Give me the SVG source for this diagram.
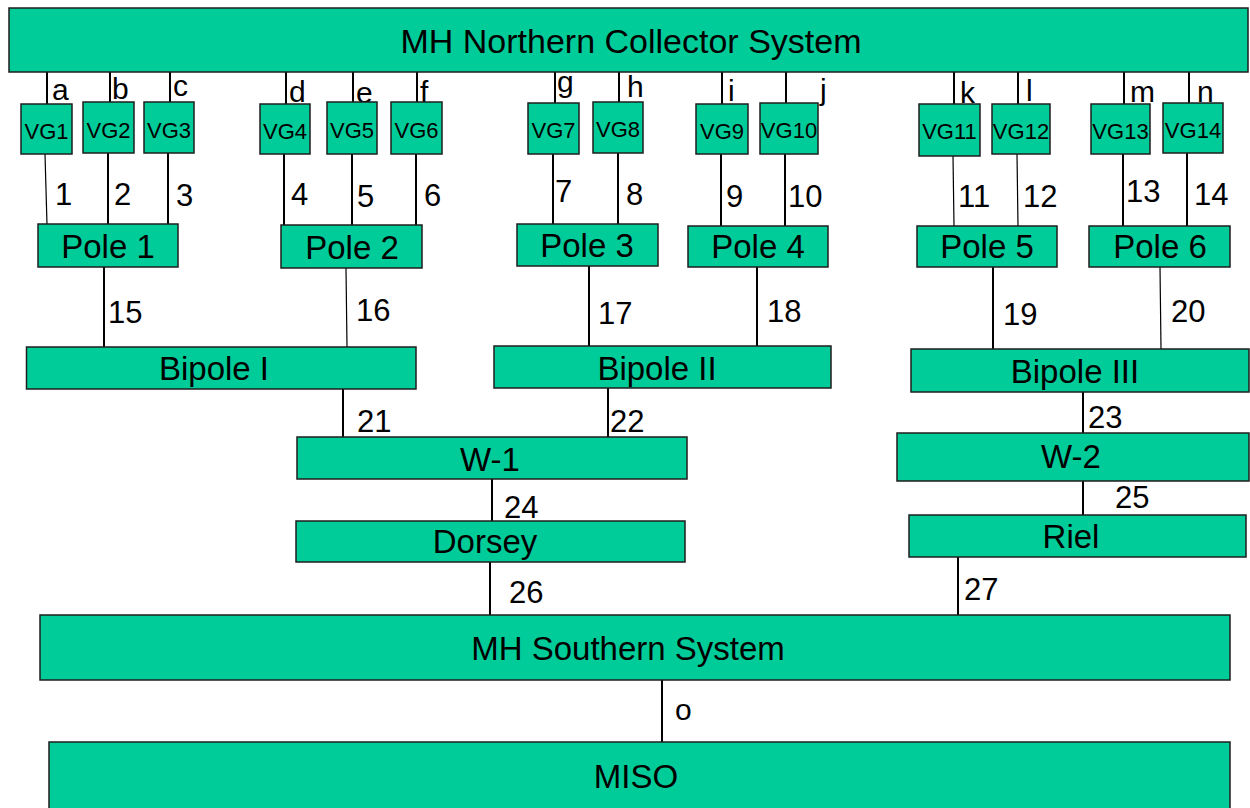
<svg xmlns="http://www.w3.org/2000/svg" width="1250" height="808" viewBox="0 0 1250 808">
<style>
.b{fill:#00CC99;stroke:#1e1e1e;stroke-width:1.5}
.t{font-family:"Liberation Sans",Arial,sans-serif;fill:#000;text-anchor:middle}
.big{font-size:33px}
.vg{font-size:22px}
.num{font-family:"Liberation Sans",Arial,sans-serif;font-size:31px;fill:#000}
.let{font-family:"Liberation Sans",Arial,sans-serif;font-size:30px;fill:#000}
.c line{stroke:#000;stroke-width:2}
.c line.thin{stroke-width:1.2}
</style>
<rect width="1250" height="808" fill="#fff"/>
<g class="c" id="connectors">
<line x1="47" y1="72" x2="47" y2="104"/>
<line x1="110" y1="72" x2="110" y2="102"/>
<line x1="170" y1="72" x2="170" y2="102"/>
<line x1="286" y1="72" x2="286" y2="104"/>
<line x1="353" y1="72" x2="353" y2="102"/>
<line x1="417" y1="72" x2="417" y2="102"/>
<line x1="555" y1="72" x2="555" y2="103"/>
<line x1="619" y1="72" x2="619" y2="102"/>
<line x1="722" y1="72" x2="722" y2="104"/>
<line x1="786" y1="72" x2="786" y2="103"/>
<line x1="954" y1="72" x2="954" y2="104"/>
<line x1="1018" y1="72" x2="1018" y2="104"/>
<line x1="1124" y1="72" x2="1124" y2="104"/>
<line x1="1189" y1="72" x2="1189" y2="103"/>
<line class="thin" x1="45" y1="154" x2="47" y2="225"/>
<line x1="108" y1="153" x2="108" y2="224"/>
<line x1="168" y1="153" x2="168" y2="224"/>
<line x1="284" y1="154" x2="284" y2="225"/>
<line x1="352" y1="154" x2="352" y2="225"/>
<line x1="416" y1="154" x2="416" y2="225"/>
<line x1="553" y1="154" x2="553" y2="224"/>
<line x1="618" y1="153" x2="618" y2="224"/>
<line x1="721" y1="154" x2="721" y2="226"/>
<line x1="785" y1="154" x2="785" y2="226"/>
<line class="thin" x1="953" y1="156" x2="954" y2="226"/>
<line class="thin" x1="1017" y1="154" x2="1018" y2="226"/>
<line x1="1123" y1="154" x2="1123" y2="226"/>
<line x1="1187" y1="153" x2="1187" y2="226"/>
<line x1="104" y1="267" x2="104" y2="347"/>
<line class="thin" x1="346" y1="268" x2="347" y2="347"/>
<line x1="589" y1="266" x2="589" y2="346"/>
<line x1="757" y1="267" x2="757" y2="346"/>
<line x1="993" y1="267" x2="993" y2="349"/>
<line class="thin" x1="1160" y1="267" x2="1161" y2="349"/>
<line x1="343" y1="389" x2="343" y2="437"/>
<line x1="608" y1="388" x2="608" y2="437"/>
<line x1="1083" y1="392" x2="1083" y2="433"/>
<line x1="492" y1="479" x2="492" y2="521"/>
<line x1="1083" y1="481" x2="1083" y2="515"/>
<line x1="490" y1="562" x2="490" y2="615"/>
<line x1="958" y1="557" x2="958" y2="615"/>
<line x1="662" y1="680" x2="662" y2="742"/>
</g>
<g id="labels">
<text class="let" x="52" y="100">a</text>
<text class="let" x="112" y="99">b</text>
<text class="let" x="173" y="96">c</text>
<text class="let" x="289" y="102">d</text>
<text class="let" x="356" y="103">e</text>
<text class="let" x="420" y="102">f</text>
<text class="let" x="557" y="92">g</text>
<text class="let" x="627" y="97">h</text>
<text class="let" x="728" y="101">i</text>
<text class="let" x="820" y="100">j</text>
<text class="let" x="960" y="103">k</text>
<text class="let" x="1026" y="101">l</text>
<text class="let" x="1130" y="102">m</text>
<text class="let" x="1197" y="102">n</text>
<text class="num" x="55" y="205">1</text>
<text class="num" x="114" y="205">2</text>
<text class="num" x="176" y="206">3</text>
<text class="num" x="291" y="205">4</text>
<text class="num" x="357" y="207">5</text>
<text class="num" x="424" y="206">6</text>
<text class="num" x="555" y="202">7</text>
<text class="num" x="626" y="205">8</text>
<text class="num" x="726" y="207">9</text>
<text class="num" x="788" y="207">10</text>
<text class="num" x="958" y="207">11</text>
<text class="num" x="1023" y="207">12</text>
<text class="num" x="1126" y="202">13</text>
<text class="num" x="1194" y="205">14</text>
<text class="num" x="108" y="323">15</text>
<text class="num" x="356" y="321">16</text>
<text class="num" x="598" y="324">17</text>
<text class="num" x="767" y="322">18</text>
<text class="num" x="1003" y="325">19</text>
<text class="num" x="1171" y="322">20</text>
<text class="num" x="357" y="432">21</text>
<text class="num" x="610" y="432">22</text>
<text class="num" x="1088" y="428">23</text>
<text class="num" x="504" y="518">24</text>
<text class="num" x="1115" y="508">25</text>
<text class="num" x="509" y="603">26</text>
<text class="num" x="964" y="600">27</text>
<text class="let" x="675" y="720" style="font-size:30px">o</text>
</g>
<g id="north"><rect class="b" x="9" y="8" width="1239" height="64"/><text class="t" x="631" y="53" style="font-size:34px">MH Northern Collector System</text></g>
<g id="vg1"><rect class="b" x="21" y="104" width="51" height="50"/><text class="t vg" x="46.5" y="139">VG1</text></g>
<g id="vg2"><rect class="b" x="83" y="102" width="51" height="51"/><text class="t vg" x="108.5" y="138">VG2</text></g>
<g id="vg3"><rect class="b" x="144" y="102" width="50" height="51"/><text class="t vg" x="169" y="138">VG3</text></g>
<g id="vg4"><rect class="b" x="260" y="104" width="50" height="50"/><text class="t vg" x="285" y="139">VG4</text></g>
<g id="vg5"><rect class="b" x="327" y="102" width="50" height="52"/><text class="t vg" x="352" y="138">VG5</text></g>
<g id="vg6"><rect class="b" x="391" y="102" width="51" height="52"/><text class="t vg" x="416.5" y="138">VG6</text></g>
<g id="vg7"><rect class="b" x="528" y="103" width="51" height="51"/><text class="t vg" x="553.5" y="138">VG7</text></g>
<g id="vg8"><rect class="b" x="593" y="102" width="50" height="51"/><text class="t vg" x="618" y="137">VG8</text></g>
<g id="vg9"><rect class="b" x="696" y="104" width="52" height="50"/><text class="t vg" x="722" y="139">VG9</text></g>
<g id="vg10"><rect class="b" x="760" y="103" width="58" height="51"/><text class="t vg" x="789" y="138">VG10</text></g>
<g id="vg11"><rect class="b" x="919" y="104" width="61" height="52"/><text class="t vg" x="949.5" y="139">VG11</text></g>
<g id="vg12"><rect class="b" x="992" y="104" width="58" height="50"/><text class="t vg" x="1021" y="139">VG12</text></g>
<g id="vg13"><rect class="b" x="1091" y="104" width="59" height="50"/><text class="t vg" x="1120.5" y="139">VG13</text></g>
<g id="vg14"><rect class="b" x="1163" y="103" width="60" height="50"/><text class="t vg" x="1193" y="138">VG14</text></g>
<g id="pole1"><rect class="b" x="38" y="224" width="140" height="43"/><text class="t big" x="108" y="258">Pole 1</text></g>
<g id="pole2"><rect class="b" x="281" y="225" width="141" height="43"/><text class="t big" x="352" y="259">Pole 2</text></g>
<g id="pole3"><rect class="b" x="517" y="224" width="141" height="42"/><text class="t big" x="587" y="257">Pole 3</text></g>
<g id="pole4"><rect class="b" x="688" y="226" width="140" height="41"/><text class="t big" x="758" y="258">Pole 4</text></g>
<g id="pole5"><rect class="b" x="917" y="226" width="140" height="41"/><text class="t big" x="987" y="258">Pole 5</text></g>
<g id="pole6"><rect class="b" x="1089" y="226" width="141" height="41"/><text class="t big" x="1160" y="258">Pole 6</text></g>
<g id="bipole1"><rect class="b" x="26.5" y="347" width="389.5" height="42"/><text class="t big" x="214" y="380">Bipole I</text></g>
<g id="bipole2"><rect class="b" x="494" y="346" width="337" height="42"/><text class="t big" x="657" y="380">Bipole II</text></g>
<g id="bipole3"><rect class="b" x="911" y="349" width="338" height="43"/><text class="t big" x="1075" y="383">Bipole III</text></g>
<g id="w1"><rect class="b" x="297" y="437" width="390" height="42"/><text class="t big" x="490" y="471">W-1</text></g>
<g id="w2"><rect class="b" x="897" y="433" width="352" height="48"/><text class="t big" x="1071" y="468">W-2</text></g>
<g id="dorsey"><rect class="b" x="296" y="521" width="389" height="41"/><text class="t big" x="485" y="553">Dorsey</text></g>
<g id="riel"><rect class="b" x="909" y="515" width="337" height="42"/><text class="t big" x="1071" y="548">Riel</text></g>
<g id="south"><rect class="b" x="40" y="615" width="1190" height="65"/><text class="t big" x="628" y="660">MH Southern System</text></g>
<g id="miso"><rect class="b" x="49" y="742" width="1181" height="70"/><text class="t big" x="636" y="788">MISO</text></g>
</svg>
